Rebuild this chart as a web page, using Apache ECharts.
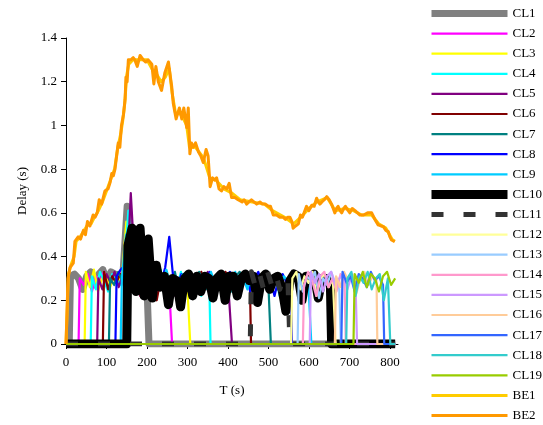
<!DOCTYPE html>
<html>
<head>
<meta charset="utf-8">
<script src="https://cdn.jsdelivr.net/npm/echarts@6/dist/echarts.min.js"></script>
<style>
  html, body { margin: 0; padding: 0; background: #fff; }
  #main { width: 543px; height: 425px; }
</style>
</head>
<body>
<div id="main"></div>
<script>
// series names and colours (legend order)
const names = ["CL1", "CL2", "CL3", "CL4", "CL5", "CL6", "CL7", "CL8", "CL9", "CL10",
  "CL11", "CL12", "CL13", "CL14", "CL15", "CL16", "CL17", "CL18", "CL19", "BE1", "BE2"];
const colors = ["#808080", "#FF00FF", "#FFFF00", "#00FFFF", "#800080", "#800000", "#008080",
  "#0000FF", "#00CCFF", "#000000", "#333333", "#FFFF99", "#99CCFF", "#FF99CC", "#CC99FF",
  "#FFCC99", "#3366FF", "#33CCCC", "#99CC00", "#FFCC00", "#FF9900"];

const xTicks = [0, 100, 200, 300, 400, 500, 600, 700, 800];
const yTicks = [0, 0.2, 0.4, 0.6, 0.8, 1, 1.2, 1.4];
const tLast = 813;

// CL flows: start / end time (s), delay sampled every 10 s while active
const clStart = [8, 31, 46, 61, 77, 91, 106, 122, 135, 150, 455, 556, 572, 585, 602, 664, 680, 692, 710];
const clEnd = [205, 262, 307, 357, 410, 457, 506, 558, 606, 656, 553, 666, 679, 691, 719, 769, 786, 801, null];

const cl1 = [0.31, 0.32, 0.30, 0.25, 0.31, 0.33, 0.27, 0.32, 0.34, 0.29, 0.33, 0.32, 0.29, 0.33, 0.63, 0.42, 0.30, 0.24, 0.28, 0.21];
const cl2 = [0.30, 0.27, 0.32, 0.24, 0.31, 0.29, 0.33, 0.27, 0.31, 0.30, 0.33, 0.28, 0.45, 0.33, 0.26, 0.22, 0.30, 0.27, 0.32, 0.24, 0.30, 0.26, 0.29];
const cl3 = [0.33, 0.26, 0.34, 0.24, 0.30, 0.32, 0.26, 0.31, 0.29, 0.33, 0.56, 0.38, 0.30, 0.36, 0.28, 0.48, 0.31, 0.25, 0.30, 0.27, 0.33, 0.26, 0.30, 0.28, 0.24, 0.29];
const cl4 = [0.31, 0.25, 0.33, 0.29, 0.24, 0.32, 0.30, 0.27, 0.33, 0.61, 0.40, 0.30, 0.25, 0.33, 0.22, 0.30, 0.28, 0.34, 0.21, 0.29,
  0.31, 0.26, 0.33, 0.24, 0.30, 0.28, 0.32, 0.22, 0.29, 0.27];
const cl5 = [0.30, 0.25, 0.32, 0.28, 0.33, 0.26, 0.31, 0.29, 0.69, 0.36, 0.28, 0.32, 0.24, 0.30, 0.27, 0.33, 0.25, 0.31, 0.29, 0.22,
  0.30, 0.32, 0.27, 0.31, 0.24, 0.30, 0.28, 0.33, 0.26, 0.30, 0.31, 0.25, 0.29];
const cl6 = [0.33, 0.25, 0.31, 0.28, 0.32, 0.26, 0.30, 0.34, 0.30, 0.22, 0.33, 0.27, 0.31, 0.20, 0.30, 0.33, 0.26, 0.30, 0.24, 0.16,
  0.30, 0.32, 0.27, 0.29, 0.33, 0.25, 0.30, 0.28, 0.31, 0.26, 0.33, 0.29, 0.24, 0.30, 0.32, 0.27, 0.30];
const cl7 = [0.30, 0.27, 0.33, 0.29, 0.32, 0.24, 0.30, 0.28, 0.33, 0.26, 0.31, 0.29, 0.25, 0.32, 0.30, 0.27, 0.33, 0.24, 0.29, 0.31,
  0.26, 0.30, 0.33, 0.28, 0.25, 0.31, 0.29, 0.32, 0.27, 0.30, 0.24, 0.31, 0.33, 0.28, 0.30, 0.26, 0.32, 0.29, 0.27, 0.31];
const cl8 = [0.31, 0.34, 0.36, 0.30, 0.27, 0.33, 0.29, 0.32, 0.25, 0.30, 0.33, 0.28, 0.35, 0.49, 0.30, 0.26, 0.32, 0.29, 0.33, 0.24,
  0.30, 0.31, 0.27, 0.33, 0.29, 0.25, 0.31, 0.30, 0.33, 0.26, 0.30, 0.28, 0.32, 0.24, 0.30, 0.33, 0.27, 0.31, 0.29, 0.22,
  0.30, 0.32, 0.28, 0.30];
const cl9 = [0.30, 0.50, 0.35, 0.28, 0.33, 0.25, 0.30, 0.32, 0.22, 0.31, 0.28, 0.34, 0.27, 0.30, 0.24, 0.32, 0.29, 0.33, 0.21, 0.30,
  0.31, 0.26, 0.33, 0.28, 0.30, 0.23, 0.31, 0.29, 0.33, 0.27, 0.30, 0.25, 0.32, 0.29, 0.31, 0.26, 0.33, 0.28, 0.30, 0.22,
  0.31, 0.29, 0.27, 0.32, 0.30, 0.25, 0.30];
const cl10 = [0.45, 0.53, 0.24, 0.53, 0.22, 0.48, 0.21, 0.36, 0.26, 0.31, 0.18, 0.30, 0.29, 0.17, 0.30, 0.32, 0.22, 0.31, 0.24, 0.31,
  0.30, 0.21, 0.30, 0.32, 0.20, 0.31, 0.31, 0.22, 0.30, 0.32, 0.29, 0.31, 0.19, 0.30, 0.32, 0.25, 0.30, 0.31, 0.26, 0.15,
  0.29, 0.32, 0.31, 0.20, 0.31, 0.30, 0.32, 0.21, 0.30, 0.30, 0.27];
const cl11 = [0.33, 0.26, 0.32, 0.25, 0.33, 0.27, 0.32, 0.25, 0.31, 0.30];
const cl12 = [0.30, 0.33, 0.25, 0.31, 0.28, 0.33, 0.22, 0.30, 0.32, 0.26, 0.30];
const cl13 = [0.32, 0.24, 0.31, 0.29, 0.33, 0.21, 0.30, 0.27, 0.33, 0.28, 0.25];
const cl14 = [0.27, 0.33, 0.29, 0.22, 0.31, 0.33, 0.26, 0.30, 0.24, 0.32, 0.29];
const cl15 = [0.33, 0.28, 0.32, 0.24, 0.31, 0.33, 0.27, 0.30, 0.32, 0.25, 0.31, 0.28];
const cl16 = [0.31, 0.26, 0.33, 0.29, 0.32, 0.23, 0.30, 0.33, 0.27, 0.31, 0.29];
const cl17 = [0.33, 0.28, 0.31, 0.24, 0.32, 0.30, 0.26, 0.33, 0.29, 0.31, 0.27];
const cl18 = [0.30, 0.33, 0.22, 0.31, 0.28, 0.33, 0.25, 0.30, 0.32, 0.20, 0.30];
const cl19 = [0.32, 0.28, 0.33, 0.26, 0.32, 0.30, 0.24, 0.31, 0.33, 0.27, 0.30];
const clDelay = [cl1, cl2, cl3, cl4, cl5, cl6, cl7, cl8, cl9, cl10, cl11, cl12, cl13, cl14, cl15, cl16, cl17, cl18, cl19];

// best-effort flows [t, delay]
const be1 = [[0, 0], [6, 0.32], [12, 0.36], [20, 0.4], [25, 0.47], [35, 0.49], [45, 0.52], [55, 0.55], [62, 0.55], [70, 0.58],
  [80, 0.61], [90, 0.65], [100, 0.7], [110, 0.75], [120, 0.8], [128, 0.9], [135, 0.96], [140, 1.02], [145, 1.1], [150, 1.23],
  [155, 1.28], [165, 1.3], [180, 1.3], [200, 1.3], [215, 1.25], [225, 1.23], [235, 1.2], [245, 1.22], [255, 1.26], [262, 1.15],
  [270, 1.06], [285, 1.05], [298, 1.0], [305, 0.9], [320, 0.9], [340, 0.85], [355, 0.76], [370, 0.75], [390, 0.71], [410, 0.69],
  [430, 0.66], [460, 0.65], [490, 0.64], [510, 0.61], [540, 0.58], [562, 0.55], [580, 0.58], [600, 0.62], [620, 0.65], [645, 0.67],
  [665, 0.61], [690, 0.62], [710, 0.61], [730, 0.59], [755, 0.59], [772, 0.55], [790, 0.53], [805, 0.48], [812, 0.47]];
const be2 = [[0, 0], [5, 0.3], [10, 0.35], [18, 0.37], [22, 0.47], [30, 0.49], [36, 0.48], [43, 0.52], [48, 0.5], [53, 0.56],
  [59, 0.54], [67, 0.59], [72, 0.58], [77, 0.6], [82, 0.66], [88, 0.64], [96, 0.7], [104, 0.71], [109, 0.74], [113, 0.78],
  [117, 0.77], [121, 0.8], [125, 0.86], [129, 0.92], [133, 0.9], [137, 1.0], [142, 1.05], [146, 1.12], [148, 1.22], [151, 1.2],
  [154, 1.3], [160, 1.3], [166, 1.31], [170, 1.3], [176, 1.27], [183, 1.32], [191, 1.3], [197, 1.29], [203, 1.3], [212, 1.28],
  [217, 1.19], [222, 1.27], [228, 1.2], [236, 1.16], [244, 1.24], [253, 1.29], [258, 1.22], [261, 1.18], [265, 1.1], [272, 1.03],
  [280, 1.08], [286, 1.03], [291, 1.08], [298, 0.99], [302, 1.08], [306, 0.87], [310, 0.92], [314, 0.9], [320, 0.92], [327, 0.88],
  [333, 0.86], [339, 0.83], [346, 0.89], [351, 0.86], [356, 0.72], [362, 0.76], [367, 0.75], [372, 0.76], [378, 0.71], [384, 0.7],
  [390, 0.72], [397, 0.71], [403, 0.735], [409, 0.67], [417, 0.67], [425, 0.66], [435, 0.65], [440, 0.66], [446, 0.64], [452, 0.65],
  [458, 0.66], [464, 0.65], [471, 0.64], [479, 0.65], [485, 0.64], [492, 0.64], [500, 0.63], [505, 0.63], [512, 0.59], [520, 0.59],
  [528, 0.58], [536, 0.58], [542, 0.57], [548, 0.58], [553, 0.58], [558, 0.56], [561, 0.53], [567, 0.54], [574, 0.55], [579, 0.59],
  [584, 0.58], [588, 0.575], [594, 0.63], [600, 0.61], [607, 0.635], [613, 0.63], [619, 0.667], [623, 0.65], [627, 0.64], [632, 0.65],
  [638, 0.66], [644, 0.674], [650, 0.66], [656, 0.64], [660, 0.62], [664, 0.6], [668, 0.62], [672, 0.63], [677, 0.61], [681, 0.6],
  [686, 0.62], [690, 0.63], [693, 0.63], [697, 0.61], [701, 0.6], [707, 0.62], [714, 0.61], [720, 0.6], [726, 0.59], [735, 0.59],
  [745, 0.6], [755, 0.6], [763, 0.57], [771, 0.545], [778, 0.54], [784, 0.537], [790, 0.52], [796, 0.514], [800, 0.49], [804, 0.476],
  [812, 0.468]];

const FONT = "'Liberation Serif', 'DejaVu Serif', serif";

function clPoints(i) {
  const start = clStart[i];
  const pts = [[0, 0], [start, 0]];
  clDelay[i].forEach((v, k) => pts.push([start + 3 + 10 * k, v]));
  if (clEnd[i] !== null) {
    pts.push([clEnd[i], 0], [tLast, 0]);
  }
  return pts;
}

function lineWidth(name) {
  if (name === "CL1") return 7;
  if (name === "CL10") return 9;
  if (name === "CL11") return 5;
  if (name.startsWith("BE")) return 3;
  return 2.2;
}

const series = names.map((name, i) => ({
  name: name,
  type: "line",
  symbol: "none",
  animation: false,
  data: i < 19 ? clPoints(i) : (name === "BE1" ? be1 : be2),
  lineStyle: {
    color: colors[i],
    width: lineWidth(name),
    type: name === "CL11" ? [12, 20] : "solid",
    join: "round",
  },
  itemStyle: { color: colors[i] },
}));

const chart = echarts.init(document.getElementById("main"));
chart.setOption({
  animation: false,
  grid: { left: 66, right: 145, top: 38, bottom: 81 },
  legend: {
    orient: "vertical",
    left: 427,
    top: 7,
    padding: 0,
    itemWidth: 76,
    itemHeight: 12,
    itemGap: 7.1,
    data: names,
    itemStyle: { opacity: 0 },
    lineStyle: { width: "inherit" },
    textStyle: { fontFamily: FONT, fontSize: 13, color: "#000" },
  },
  xAxis: {
    type: "value",
    min: 0,
    max: 820,
    interval: 100,
    name: "T (s)",
    nameLocation: "middle",
    nameGap: 40,
    nameTextStyle: { fontFamily: FONT, fontSize: 13, color: "#000" },
    axisLine: { lineStyle: { color: "#000", width: 1 } },
    axisTick: { length: 5, lineStyle: { color: "#000" }, customValues: xTicks },
    axisLabel: { fontFamily: FONT, fontSize: 13, color: "#000", margin: 12, customValues: xTicks },
    splitLine: { show: false },
  },
  yAxis: {
    type: "value",
    min: 0,
    max: 1.4,
    interval: 0.2,
    name: "Delay (s)",
    nameLocation: "middle",
    nameGap: 37,
    nameTextStyle: { fontFamily: FONT, fontSize: 13, color: "#000" },
    axisLine: { show: true, lineStyle: { color: "#000", width: 1 } },
    axisTick: { show: true, length: 5, lineStyle: { color: "#000" }, customValues: yTicks },
    axisLabel: { fontFamily: FONT, fontSize: 13, color: "#000", margin: 9, customValues: yTicks },
    splitLine: { show: false },
  },
  series: series,
});
</script>
</body>
</html>
